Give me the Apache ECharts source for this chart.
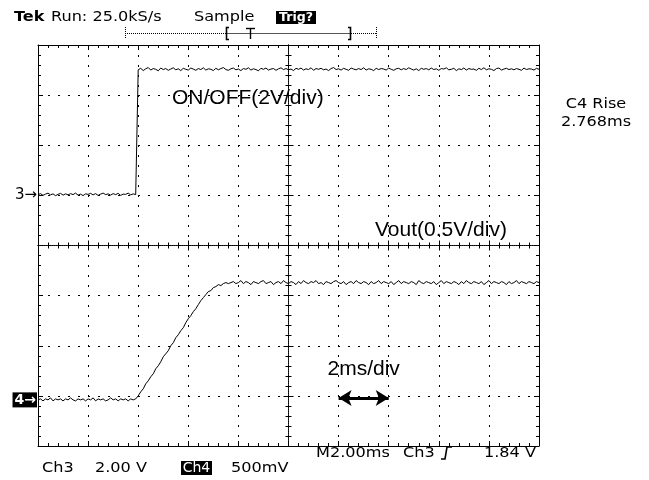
<!DOCTYPE html>
<html><head><meta charset="utf-8">
<script src="https://cdn.jsdelivr.net/npm/echarts@6/dist/echarts.min.js"></script>
<style>html,body{margin:0;padding:0;background:#fff}#c{width:649px;height:480px}</style>
</head><body><div id="c"></div>
<script>
// ---- acquisition settings ----
const sampleMs = 0.1;          // spacing of the read-off samples (ms)
const msPerDiv = 2;            // M2.00ms
const screenMs = 20;           // 10 divisions
const ch3Range = [-10, 6];     // Ch3 2.00 V/div, ground marker "3" one div above centre
const ch4Range = [-0.46, 3.54];// Ch4 500 mV/div, ground marker "4" near the bottom
const arrowSpanMs = [12, 14];  // "2ms/div" arrow = one division
const arrowLevelV = 0.02;

// ---- Ch3 : ON/OFF signal (V), one value per sample ----
const ch3Volts = [
 0.03,0.07,0.00,0.05,0.09,0.02,0.06,-0.01,0.04,0.08,
 0.01,0.06,0.02,0.07,0.03,0.09,0.01,0.05,-0.01,0.06,
 0.04,0.08,0.02,0.07,0.00,0.05,0.09,0.03,0.06,0.01,
 0.07,0.03,0.08,0.00,0.05,0.04,0.09,0.02,0.06,0.03,
 5.01,5.07,4.98,5.05,5.10,5.00,5.06,5.03,4.97,5.08,
 5.02,5.06,4.99,5.04,5.09,5.01,5.05,4.98,5.07,5.03,
 5.00,5.08,5.04,4.99,5.06,5.02,5.09,5.00,5.05,5.03,
 4.98,5.07,5.01,5.06,5.10,5.02,4.99,5.05,5.08,5.01,
 5.04,4.98,5.06,5.03,5.09,5.00,5.05,5.02,4.97,5.07,
 5.03,5.08,5.00,5.04,5.06,4.99,5.05,5.09,5.02,5.06,
 5.01,5.04,4.98,5.07,5.03,5.08,5.00,5.05,5.02,5.09,
 4.99,5.06,5.03,5.07,5.01,5.04,4.98,5.06,5.10,5.02,
 5.05,5.00,5.07,5.03,4.99,5.08,5.04,5.01,5.06,5.02,
 5.09,5.00,5.05,5.03,4.98,5.07,5.02,5.06,5.04,5.00,
 5.08,5.03,4.99,5.05,5.07,5.01,5.06,5.02,5.09,5.04,
 5.00,5.05,4.98,5.07,5.03,5.06,5.01,5.08,5.02,5.05,
 4.99,5.06,5.04,5.09,5.01,5.03,5.07,4.98,5.05,5.02,
 5.08,5.00,5.06,5.03,5.04,4.99,5.07,5.02,5.09,5.01,
 5.05,5.03,4.98,5.06,5.08,5.00,5.04,5.07,5.02,5.05,
 5.01,5.06,5.03,4.99,5.08,5.02,5.05,5.04,5.00,5.07,
 5.03
];

// ---- Ch4 : Vout (V), one value per sample ----
const ch4Volts = [
 0.00,0.01,-0.01,0.01,0.00,0.02,-0.01,0.01,0.00,0.01,
 -0.01,0.01,0.00,0.02,0.00,-0.01,0.01,0.00,0.01,-0.01,
 0.01,0.00,0.02,-0.01,0.01,0.00,0.01,-0.01,0.00,0.02,
 0.00,0.01,-0.01,0.01,0.00,0.01,-0.01,0.01,0.00,
 0.01,0.04,0.08,0.11,0.16,0.19,0.23,0.26,0.31,0.34,
 0.38,0.43,0.46,0.49,0.54,0.57,0.62,0.65,0.69,0.72,
 0.77,0.81,0.84,0.88,0.91,0.95,0.99,1.02,1.05,1.08,
 1.09,1.12,1.13,1.15,1.14,1.16,1.17,1.16,
 1.17,1.18,1.16,1.17,1.19,1.16,1.18,1.17,1.15,1.18,
 1.17,1.16,1.18,1.19,1.16,1.17,1.18,1.15,1.17,1.18,
 1.16,1.19,1.17,1.16,1.18,1.17,1.15,1.18,1.16,1.19,
 1.17,1.16,1.18,1.17,1.19,1.16,1.17,1.15,1.18,1.17,
 1.16,1.18,1.19,1.17,1.16,1.18,1.15,1.17,1.18,1.16,
 1.19,1.17,1.16,1.18,1.17,1.15,1.18,1.16,1.17,1.19,
 1.16,1.18,1.17,1.16,1.18,1.15,1.17,1.19,1.16,1.18,
 1.17,1.16,1.18,1.17,1.15,1.19,1.17,1.16,1.18,1.17,
 1.16,1.18,1.15,1.17,1.19,1.16,1.18,1.17,1.16,1.18,
 1.17,1.15,1.18,1.16,1.19,1.17,1.16,1.18,1.17,1.16,
 1.18,1.15,1.17,1.19,1.16,1.18,1.17,1.16,1.18,1.17,
 1.15,1.18,1.16,1.17,1.19,1.16,1.18,1.17,1.16,1.18,
 1.17,1.16,1.18,1.17
];

// ---- readout texts ----
const headerTexts = ['Tek', 'Run: 25.0kS/s', 'Sample', 'Trig?'];
const measureTexts = ['C4 Rise', '2.768ms'];
const footerRow1 = ['M2.00ms', 'Ch3', '1.84 V'];
const footerRow2 = ['Ch3', '2.00 V', 'Ch4', '500mV'];
const traceLabels = ['ON/OFF(2V/div)', 'Vout(0.5V/div)', '2ms/div'];
const groundMarkers = ['3\u2192', '4\u2192'];

// ---------------------------------------------------------------
const BLACK = '#000';
const SCOPE_FONT = '"DejaVu Sans"';
const SX = 1.15;

const toPairs = arr => arr.map((v, i) => [+(i * sampleMs).toFixed(2), v]);

const baseX = {type: 'value', min: 0, max: screenMs, interval: msPerDiv,
  axisLabel: {show: false}, splitLine: {show: false}};
const tickLine = {color: BLACK, width: 1};
const dotted = {color: BLACK, width: 1, type: [2, 8]};
const frameX = (pos, split) => Object.assign({}, baseX, {
  position: pos,
  axisLine: {show: true, onZero: false, lineStyle: {color: BLACK, width: 1}},
  axisTick: {show: true, inside: true, length: 5, lineStyle: tickLine},
  minorTick: {show: true, splitNumber: 5, length: 3, lineStyle: tickLine},
  splitLine: {show: split, lineStyle: dotted}
});
const centreX = inside => Object.assign({}, baseX, {
  position: 'bottom',
  axisLine: {show: true, onZero: true, onZeroAxisIndex: 2, lineStyle: {color: BLACK, width: 1, type: [1, 1]}},
  axisTick: {show: true, inside: inside, length: 5, lineStyle: tickLine},
  minorTick: {show: true, splitNumber: 5, length: 3, lineStyle: tickLine}
});
const centreY = inside => ({
  type: 'value', min: -4, max: 4, interval: 1, position: 'left',
  axisLabel: {show: false}, splitLine: {show: false},
  axisLine: {show: true, onZero: true, onZeroAxisIndex: 4, lineStyle: {color: BLACK, width: 1, type: [1, 1]}},
  axisTick: {show: true, inside: inside, length: 5, lineStyle: tickLine},
  minorTick: {show: true, splitNumber: 5, length: 3, lineStyle: tickLine}
});

function txt(text, x, y, opts) {
  opts = opts || {};
  return {
    type: 'text', x: x, y: y, scaleX: opts.sx == null ? SX : opts.sx, z: 100,
    style: {
      text: text, x: 0, y: 0,
      font: (opts.weight || 'normal') + ' ' + (opts.size || 14) + 'px ' + (opts.family || SCOPE_FONT),
      fill: opts.fill || BLACK,
      textAlign: opts.align || 'left', textVerticalAlign: 'middle'
    }
  };
}
function seg(x1, y1, x2, y2, dash, color, w) {
  return {type: 'line', z: 100, shape: {x1: x1, y1: y1, x2: x2, y2: y2},
    style: {stroke: color || BLACK, lineWidth: w || 1, lineDash: dash || null}};
}

const graphics = [
  txt(headerTexts[0], 14, 17, {weight: 'bold'}),
  txt(headerTexts[1], 51, 17),
  txt(headerTexts[2], 194, 17),
  {type: 'rect', z: 99, shape: {x: 276, y: 11, width: 40, height: 13}, style: {fill: BLACK}},
  txt(headerTexts[3], 296, 18, {weight: 'bold', size: 12, fill: '#fff', align: 'center', sx: 1.05}),
  // record-length bar
  seg(125.5, 27, 125.5, 39, [1, 1]),
  seg(125, 33.5, 226, 33.5, [1, 1]),
  seg(226, 33.5, 351, 33.5, null, '#555'),
  seg(351, 33.5, 377, 33.5, [1, 1]),
  seg(376.5, 27, 376.5, 39, [1, 1]),
  {type: 'polyline', z: 100, shape: {points: [[229, 27.5], [226.5, 27.5], [226.5, 39.5], [229, 39.5]]}, style: {stroke: BLACK, fill: null, lineWidth: 1.6}},
  {type: 'polyline', z: 100, shape: {points: [[348, 27.5], [350.5, 27.5], [350.5, 39.5], [348, 39.5]]}, style: {stroke: BLACK, fill: null, lineWidth: 1.6}},
  seg(246, 28.5, 255, 28.5, null, BLACK, 1.4),
  seg(250.5, 28, 250.5, 39, null, BLACK, 1.4),
  // measurement readout
  txt(measureTexts[0], 596, 104, {align: 'center'}),
  txt(measureTexts[1], 596, 122, {align: 'center'}),
  // footer
  txt(footerRow1[0], 316, 453),
  txt(footerRow1[1], 403, 453),
  {type: 'polyline', z: 100, shape: {points: [[441, 459], [445, 459], [447, 447], [452, 447]]}, style: {stroke: BLACK, fill: null, lineWidth: 1.6}},
  txt(footerRow1[2], 484, 453),
  txt(footerRow2[0], 42, 468),
  txt(footerRow2[1], 95, 468),
  {type: 'rect', z: 99, shape: {x: 181, y: 461, width: 31, height: 14}, style: {fill: BLACK}},
  txt(footerRow2[2], 196.5, 468, {fill: '#fff', align: 'center', sx: 1.0}),
  txt(footerRow2[3], 231, 468),
  // trace annotations
  txt(traceLabels[0], 172, 98, {family: '"Liberation Sans", Arial, sans-serif', size: 21, sx: 1}),
  txt(traceLabels[1], 375, 230, {family: '"Liberation Sans", Arial, sans-serif', size: 21, sx: 1})
];

const option = {
  animation: false,
  backgroundColor: '#fff',
  grid: {left: 38, top: 45, width: 501, height: 401, show: false},
  xAxis: [
    frameX('bottom', true),
    frameX('top', false),
    centreX(true),
    centreX(false),
    {type: 'value', min: -5, max: 5, show: false}
  ],
  yAxis: [
    {type: 'value', min: ch3Range[0], max: ch3Range[1], interval: 2, position: 'left',
     axisLabel: {show: false},
     axisLine: {show: true, onZero: false, lineStyle: {color: BLACK, width: 1}},
     axisTick: {show: true, inside: true, length: 5, lineStyle: tickLine},
     minorTick: {show: true, splitNumber: 5, length: 3, lineStyle: tickLine},
     splitLine: {show: true, lineStyle: dotted}},
    {type: 'value', min: ch4Range[0], max: ch4Range[1], show: false},
    {type: 'value', min: -4, max: 4, interval: 1, position: 'right',
     axisLabel: {show: false}, splitLine: {show: false},
     axisLine: {show: true, onZero: false, lineStyle: {color: BLACK, width: 1}},
     axisTick: {show: true, inside: true, length: 5, lineStyle: tickLine},
     minorTick: {show: true, splitNumber: 5, length: 3, lineStyle: tickLine}},
    centreY(true),
    centreY(false)
  ],
  series: [
    {name: 'Ch3', type: 'line', xAxisIndex: 0, yAxisIndex: 0, data: toPairs(ch3Volts),
     symbol: 'none', silent: true, z: 5, lineStyle: {color: BLACK, width: 1},
     markLine: {silent: true, symbol: 'none', animation: false,
       lineStyle: {color: 'rgba(0,0,0,0)', width: 0},
       label: {show: true, position: 'start', distance: 1, formatter: groundMarkers[0],
               color: BLACK, fontFamily: 'DejaVu Sans', fontSize: 15},
       data: [{yAxis: 0}]}},
    {name: 'Ch4', type: 'line', xAxisIndex: 0, yAxisIndex: 1, data: toPairs(ch4Volts),
     symbol: 'none', silent: true, z: 5, lineStyle: {color: BLACK, width: 1},
     markLine: {silent: true, symbol: 'none', animation: false,
       lineStyle: {color: 'rgba(0,0,0,0)', width: 0},
       label: {show: true, position: 'start', distance: 1, formatter: groundMarkers[1],
               color: '#fff', backgroundColor: BLACK, padding: [1, 1, 0, 2],
               fontFamily: 'DejaVu Sans', fontWeight: 'bold', fontSize: 14},
       data: [{yAxis: 0}]}},
    {name: 'scale', type: 'line', xAxisIndex: 0, yAxisIndex: 1, data: [],
     markLine: {silent: true, animation: false, symbol: ['arrow', 'arrow'], symbolSize: [12, 13],
       lineStyle: {color: BLACK, width: 3, type: 'solid'},
       label: {show: true, position: 'insideMiddleTop', distance: 18, formatter: traceLabels[2],
               color: BLACK, fontFamily: '"Liberation Sans", Arial, sans-serif', fontSize: 21},
       data: [[{coord: [arrowSpanMs[0], arrowLevelV]}, {coord: [arrowSpanMs[1], arrowLevelV]}]]}}
  ],
  graphic: graphics
};

const chart = echarts.init(document.getElementById('c'));
chart.setOption(option);
</script>
</body></html>
